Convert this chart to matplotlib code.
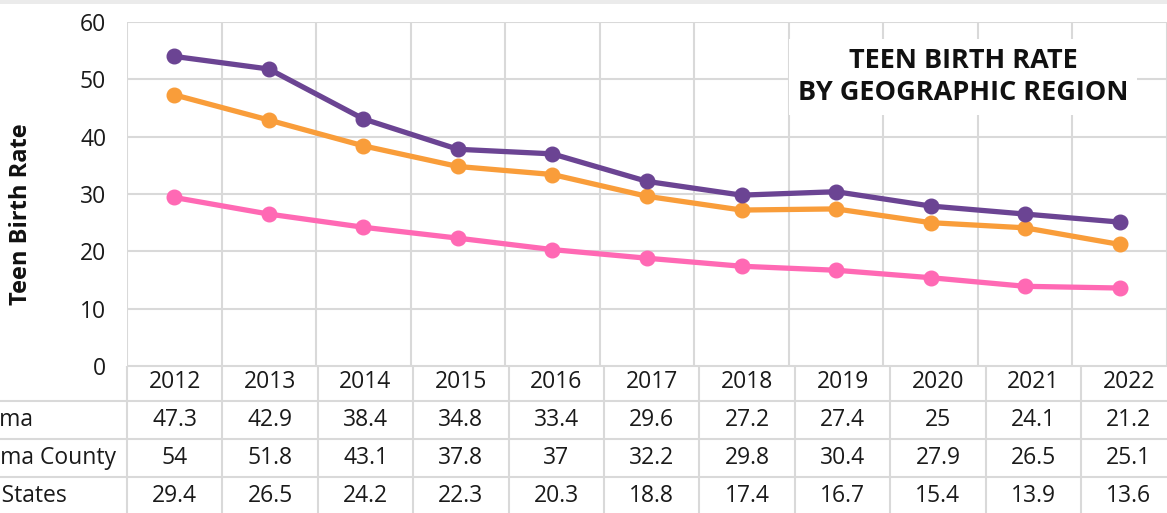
import matplotlib.pyplot as plt
from matplotlib.patches import Rectangle

plt.rcParams["font.family"] = ["Open Sans", "DejaVu Sans"]

years = ["2012", "2013", "2014", "2015", "2016", "2017", "2018", "2019", "2020", "2021", "2022"]
oklahoma = [47.3, 42.9, 38.4, 34.8, 33.4, 29.6, 27.2, 27.4, 25, 24.1, 21.2]
ok_county = [54, 51.8, 43.1, 37.8, 37, 32.2, 29.8, 30.4, 27.9, 26.5, 25.1]
united_states = [29.4, 26.5, 24.2, 22.3, 20.3, 18.8, 17.4, 16.7, 15.4, 13.9, 13.6]
series_names = ["Oklahoma", "Oklahoma County", "United States"]
series_vals = [oklahoma, ok_county, united_states]
colors = ["#f99d3a", "#6b4493", "#ff69b4"]
yticks = [0, 10, 20, 30, 40, 50, 60]

W, H = 1167, 513
fig = plt.figure(figsize=(W / 100, H / 100), dpi=100)
renderer = fig.canvas.get_renderer()

FS = 16.5
txt_c = "#1a1a1a"
col_w = 95.4          # px per year column
plot_left, plot_top, plot_bottom = 127, 22, 366
grid_c = "#d9d9d9"

# --- chart ---
ax = fig.add_axes([plot_left / W, 1 - plot_bottom / H, (W - plot_left) / W, (plot_bottom - plot_top) / H])
x = list(range(len(years)))
ax.set_xlim(-0.5, -0.5 + (W - plot_left) / col_w)
ax.set_ylim(0, 60)
for sp in ax.spines.values():
    sp.set_visible(False)
ax.set_yticks(yticks)
ax.set_yticklabels([str(t) for t in yticks], fontsize=FS, color=txt_c)
ax.tick_params(axis="y", length=0, pad=15)
ax.set_xticks([i - 0.5 for i in range(len(years) + 1)])
ax.set_xticklabels([])
ax.tick_params(axis="x", length=0)
ax.grid(True, color=grid_c, linewidth=1.5)
ax.set_axisbelow(True)
ax.set_ylabel("Teen Birth Rate", fontsize=17, fontweight="bold", color="#111111")
ax.yaxis.set_label_coords(-(plot_left - 33) / (W - plot_left), 0.44)

order = [2, 0, 1]
for i in order:
    ax.plot(x, series_vals[i], color=colors[i], linewidth=3.8, marker="o",
            markersize=10.5, label=series_names[i], zorder=3, clip_on=False)

ax.text((963 - plot_left) / (W - plot_left), 1 - (77 - plot_top) / (plot_bottom - plot_top),
        "TEEN BIRTH RATE\nBY GEOGRAPHIC REGION", transform=ax.transAxes,
        ha="center", va="center", fontsize=19.5, fontweight="bold", linespacing=1.35,
        color="#111111", bbox=dict(facecolor="white", edgecolor="none", pad=6), zorder=4)

# --- data table ---
tab = fig.add_axes([0, 0, 1, (H - plot_bottom) / H])
tab.set_xlim(-0.5 - plot_left / col_w, -0.5 + (W - plot_left) / col_w)
tab.set_ylim(H, plot_bottom)
tab.axis("off")

row_h = 38
row_tops = [plot_bottom, 401, 401 + row_h, 401 + 2 * row_h]
for k in range(len(years) + 1):
    tab.plot([k - 0.5, k - 0.5], [plot_bottom, H], color=grid_c, linewidth=1.5)
tab.plot([-0.5, 20], [plot_bottom, plot_bottom], color=grid_c, linewidth=1.5)
for yt in row_tops[1:]:
    tab.plot([-5, 20], [yt, yt], color=grid_c, linewidth=1.5)

# row labels run off the left edge, as in the source image ("Oklaho" is hidden)
probe = fig.text(0, 0, "Oklaho", fontsize=FS)
hidden_w = probe.get_window_extent(renderer).width
probe.remove()

row_centers = [382, 420, 458, 496]
for i, yr in enumerate(years):
    tab.text(i, row_centers[0], yr, ha="center", va="center", fontsize=FS, color=txt_c)
for r, (name, vals) in enumerate(zip(series_names, series_vals)):
    yc = row_centers[r + 1]
    for i, v in enumerate(vals):
        tab.text(i, yc, f"{v:g}", ha="center", va="center", fontsize=FS, color=txt_c)
    tab.text(-0.5 - (plot_left + hidden_w) / col_w, yc, name, ha="left", va="center",
             fontsize=FS, color=txt_c)

# faint top edge
fig.patches.append(Rectangle((0, 1 - 4 / H), 1, 4 / H, transform=fig.transFigure,
                             facecolor="#ebebeb", edgecolor="none"))

fig.savefig("out.png", dpi=100)
